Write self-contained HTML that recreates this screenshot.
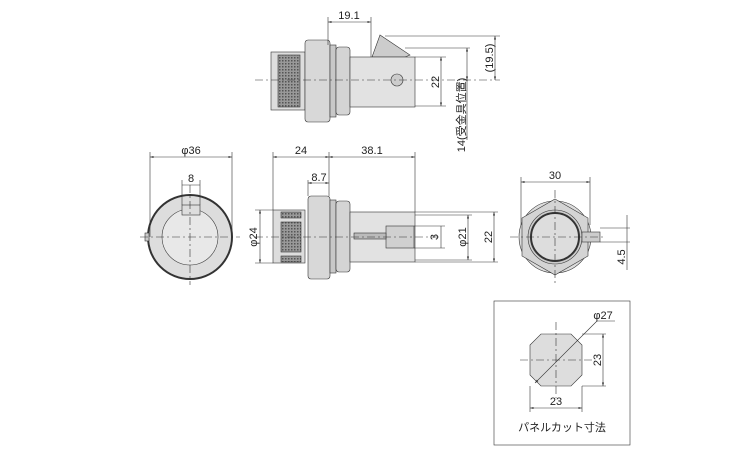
<!DOCTYPE html>
<html><head><style>body{margin:0;background:#fff}svg{display:block}text{font-family:"Liberation Sans","Noto Sans CJK JP",sans-serif;font-size:11px;fill:#222}</style></head>
<body>
<svg width="750" height="450" viewBox="0 0 750 450">
<defs>
<marker id="a" viewBox="0 0 10 10" refX="10" refY="5" markerWidth="6" markerHeight="6" orient="auto-start-reverse"><path d="M0,2L10,5L0,8z" fill="#333"/></marker>
<pattern id="k" width="3" height="3" patternUnits="userSpaceOnUse"><rect width="3" height="3" fill="#999"/><rect width="1.5" height="1.5" fill="#555"/></pattern>
</defs>
<g stroke="#333" stroke-width="0.6" fill="none">
<!-- TOP SIDE VIEW -->
<path d="M372,57 L380,35 L410,55 L405,57Z" fill="#ccc"/>
<rect x="271" y="52" width="34" height="58" fill="#ddd"/>
<rect x="278" y="55" width="22" height="52" fill="url(#k)"/>
<rect x="305" y="40" width="25" height="82" rx="3" fill="#d8d8d8"/>
<rect x="330" y="45" width="6" height="72" fill="#c8c8c8"/>
<rect x="336" y="47" width="14" height="68" rx="3" fill="#d4d4d4"/>
<rect x="350" y="57" width="65" height="50" fill="#e2e2e2"/>
<circle cx="397" cy="80" r="6" fill="#ccc"/>
<line x1="255" y1="80" x2="500" y2="80" stroke-dasharray="8,3,2,3"/>
<line x1="328" y1="17" x2="328" y2="45"/><line x1="371" y1="17" x2="371" y2="57"/>
<line x1="328" y1="22" x2="371" y2="22" marker-start="url(#a)" marker-end="url(#a)"/>
<line x1="415" y1="57" x2="446" y2="57"/><line x1="415" y1="106" x2="446" y2="106"/>
<line x1="441" y1="57" x2="441" y2="106" marker-start="url(#a)" marker-end="url(#a)"/>
<line x1="385" y1="36" x2="500" y2="36"/><line x1="495" y1="36" x2="495" y2="80" marker-start="url(#a)" marker-end="url(#a)"/>
<line x1="405" y1="48" x2="470" y2="48"/><line x1="467" y1="48" x2="467" y2="80" marker-start="url(#a)" marker-end="url(#a)"/>
<line x1="467" y1="80" x2="467" y2="140"/>
<!-- FRONT VIEW -->
<circle cx="190" cy="237" r="42" fill="#ddd" stroke-width="2"/>
<circle cx="190" cy="237" r="28" fill="#e8e8e8"/>
<rect x="182" y="205" width="18" height="10" fill="#ddd"/>
<rect x="145" y="233" width="4" height="8" fill="#ccc"/>
<line x1="140" y1="237" x2="240" y2="237" stroke-dasharray="8,3,2,3"/><line x1="190" y1="185" x2="190" y2="285" stroke-dasharray="8,3,2,3"/>
<line x1="150" y1="152" x2="150" y2="237"/><line x1="232" y1="152" x2="232" y2="237"/>
<line x1="150" y1="157" x2="232" y2="157" marker-start="url(#a)" marker-end="url(#a)"/>
<line x1="182" y1="180" x2="182" y2="205"/><line x1="200" y1="180" x2="200" y2="205"/>
<line x1="182" y1="185" x2="200" y2="185"/>
<!-- MID SIDE VIEW -->
<rect x="273" y="210" width="32" height="53" fill="#ddd"/>
<rect x="281" y="222" width="20" height="30" fill="url(#k)"/>
<rect x="281" y="212" width="20" height="6" fill="url(#k)"/><rect x="281" y="256" width="20" height="6" fill="url(#k)"/>
<rect x="308" y="196" width="22" height="83" rx="3" fill="#d8d8d8"/>
<rect x="330" y="200" width="6" height="73" fill="#c8c8c8"/>
<rect x="336" y="201" width="14" height="71" rx="3" fill="#d4d4d4"/>
<rect x="350" y="212" width="65" height="50" fill="#e2e2e2"/>
<rect x="386" y="226" width="28" height="22" fill="#d0d0d0"/>
<rect x="354" y="233" width="32" height="6" fill="#bbb"/>
<line x1="255" y1="237" x2="440" y2="237" stroke-dasharray="8,3,2,3"/>
<line x1="273" y1="152" x2="273" y2="210"/><line x1="329" y1="152" x2="329" y2="196"/><line x1="415" y1="152" x2="415" y2="212"/>
<line x1="273" y1="157" x2="329" y2="157" marker-start="url(#a)" marker-end="url(#a)"/>
<line x1="329" y1="157" x2="415" y2="157" marker-start="url(#a)" marker-end="url(#a)"/>
<line x1="308" y1="180" x2="308" y2="196"/><line x1="308" y1="183" x2="329" y2="183" marker-start="url(#a)" marker-end="url(#a)"/>
<line x1="255" y1="210" x2="273" y2="210"/><line x1="255" y1="263" x2="273" y2="263"/>
<line x1="260" y1="210" x2="260" y2="263" marker-start="url(#a)" marker-end="url(#a)"/>
<line x1="414" y1="226" x2="445" y2="226"/><line x1="414" y1="248" x2="445" y2="248"/>
<line x1="441" y1="226" x2="441" y2="248"/>
<line x1="415" y1="215" x2="472" y2="215"/><line x1="415" y1="260" x2="472" y2="260"/>
<line x1="468" y1="215" x2="468" y2="260" marker-start="url(#a)" marker-end="url(#a)"/>
<line x1="415" y1="212" x2="498" y2="212"/><line x1="415" y1="262" x2="498" y2="262"/>
<line x1="494" y1="212" x2="494" y2="262" marker-start="url(#a)" marker-end="url(#a)"/>
<!-- RIGHT VIEW -->
<circle cx="555" cy="237" r="36" fill="#ddd"/>
<polygon points="555,199 588,218 588,256 555,275 522,256 522,218" fill="#d4d4d4"/>
<circle cx="555" cy="237" r="27" fill="#ccc"/>
<circle cx="555" cy="237" r="24" fill="#ddd" stroke-width="2"/>
<rect x="582" y="232" width="18" height="10" fill="#ccc"/>
<line x1="510" y1="237" x2="605" y2="237" stroke-dasharray="8,3,2,3"/><line x1="555" y1="190" x2="555" y2="285" stroke-dasharray="8,3,2,3"/>
<line x1="521" y1="177" x2="521" y2="225"/><line x1="590" y1="177" x2="590" y2="225"/>
<line x1="521" y1="182" x2="590" y2="182" marker-start="url(#a)" marker-end="url(#a)"/>
<line x1="600" y1="228" x2="630" y2="228"/><line x1="600" y1="242" x2="630" y2="242"/>
<line x1="627" y1="215" x2="627" y2="270"/>
<!-- PANEL -->
<rect x="494" y="301" width="136" height="144" fill="#fff"/>
<polygon points="541,334 571,334 582,345 582,375 571,386 541,386 530,375 530,345" fill="#ddd"/>
<line x1="520" y1="360" x2="592" y2="360" stroke-dasharray="8,3,2,3"/><line x1="556" y1="322" x2="556" y2="398" stroke-dasharray="8,3,2,3"/>
<line x1="535" y1="383" x2="597" y2="321" marker-start="url(#a)"/><line x1="597" y1="321" x2="615" y2="321"/>
<line x1="582" y1="334" x2="606" y2="334"/><line x1="582" y1="386" x2="606" y2="386"/>
<line x1="603" y1="334" x2="603" y2="386" marker-start="url(#a)" marker-end="url(#a)"/>
<line x1="530" y1="386" x2="530" y2="412"/><line x1="582" y1="386" x2="582" y2="412"/>
<line x1="530" y1="408" x2="582" y2="408" marker-start="url(#a)" marker-end="url(#a)"/>
</g>
<text x="349" y="19" text-anchor="middle">19.1</text>
<text x="439" y="82" text-anchor="middle" transform="rotate(-90 439 82)">22</text>
<text x="493" y="58" text-anchor="middle" transform="rotate(-90 493 58)">(19.5)</text>
<text x="465" y="115" text-anchor="middle" transform="rotate(-90 465 115)">14(受金具位置)</text>
<text x="191" y="154" text-anchor="middle">φ36</text>
<text x="191" y="182" text-anchor="middle">8</text>
<text x="301" y="154" text-anchor="middle">24</text>
<text x="372" y="154" text-anchor="middle">38.1</text>
<text x="319" y="181" text-anchor="middle">8.7</text>
<text x="257" y="237" text-anchor="middle" transform="rotate(-90 257 237)">φ24</text>
<text x="438" y="237" text-anchor="middle" transform="rotate(-90 438 237)">3</text>
<text x="466" y="237" text-anchor="middle" transform="rotate(-90 466 237)">φ21</text>
<text x="492" y="237" text-anchor="middle" transform="rotate(-90 492 237)">22</text>
<text x="555" y="179" text-anchor="middle">30</text>
<text x="625" y="257" text-anchor="middle" transform="rotate(-90 625 257)">4.5</text>
<text x="603" y="319" text-anchor="middle">φ27</text>
<text x="601" y="360" text-anchor="middle" transform="rotate(-90 601 360)">23</text>
<text x="556" y="405" text-anchor="middle">23</text>
<text x="562" y="431" text-anchor="middle">パネルカット寸法</text>
</svg>
</body></html>
